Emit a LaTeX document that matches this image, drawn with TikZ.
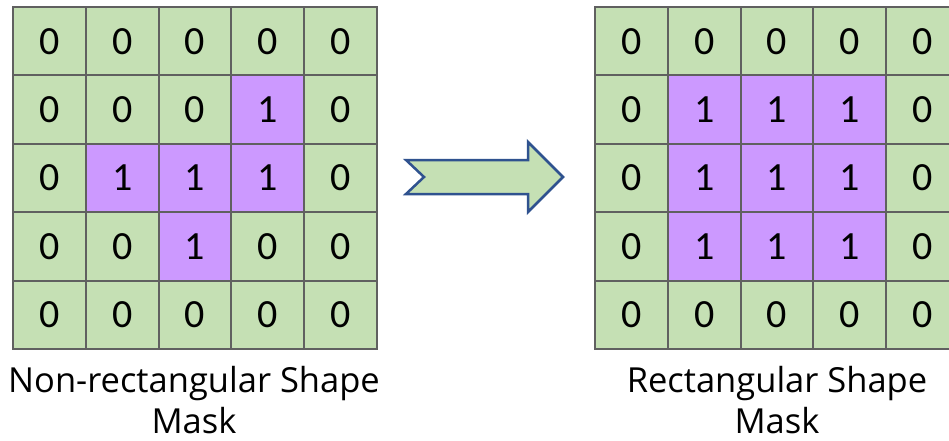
\documentclass[tikz,border=0pt]{standalone}
\usepackage{fontspec}
\setmainfont{Open Sans}
\newfontfamily\digitfont{Carlito}
\definecolor{cellgreen}{HTML}{C5E0B4}
\definecolor{cellpurple}{HTML}{CC99FF}
\definecolor{gridline}{HTML}{606060}
\definecolor{arrowline}{HTML}{2F528F}
\begin{document}
\begin{tikzpicture}[x=1pt,y=1pt,
  cell/.style={draw=gridline,line width=2pt,minimum width=72.8pt,minimum height=68.4pt,
    inner sep=0pt,anchor=north west,font=\digitfont\fontsize{40}{40}\selectfont},
  zero/.style={cell,fill=cellgreen},
  one/.style={cell,fill=cellpurple},
  caption/.style={align=center,inner sep=0pt,font=\fontsize{34.5}{41}\selectfont}]
\useasboundingbox (0,0) rectangle (949,-441);
\clip (0,0) rectangle (949,-441);
\fill[white] (0,0) rectangle (949,-441);

% left grid: irregular mask
\foreach \row/\vals in {0/{0,0,0,0,0},1/{0,0,0,1,0},2/{0,1,1,1,0},3/{0,0,1,0,0},4/{0,0,0,0,0}}{
  \foreach \v [count=\col from 0] in \vals {
    \ifnum\v=1
      \node[one] (L-\row-\col) at ({12+72.8*\col},{-6-68.4*\row}) {1};
    \else
      \node[zero] (L-\row-\col) at ({12+72.8*\col},{-6-68.4*\row}) {0};
    \fi
  }
}

% right grid: rectangular mask
\foreach \row/\vals in {0/{0,0,0,0,0},1/{0,1,1,1,0},2/{0,1,1,1,0},3/{0,1,1,1,0},4/{0,0,0,0,0}}{
  \foreach \v [count=\col from 0] in \vals {
    \ifnum\v=1
      \node[one] (R-\row-\col) at ({594+72.8*\col},{-6-68.4*\row}) {1};
    \else
      \node[zero] (R-\row-\col) at ({594+72.8*\col},{-6-68.4*\row}) {0};
    \fi
  }
}

% notched block arrow
\draw[arrowline,fill=cellgreen,line width=2.5pt,line join=miter]
  (406,-160) -- (528,-160) -- (528,-142) -- (563,-177) -- (528,-212)
  -- (528,-194) -- (406,-194) -- (424,-177) -- cycle;

% captions
\node[caption,anchor=north] (capL) at (194,-366.5) {Non-rectangular Shape\\Mask};
\node[caption,anchor=north] (capR) at (777,-366.5) {Rectangular Shape\\Mask};
\end{tikzpicture}
\end{document}
